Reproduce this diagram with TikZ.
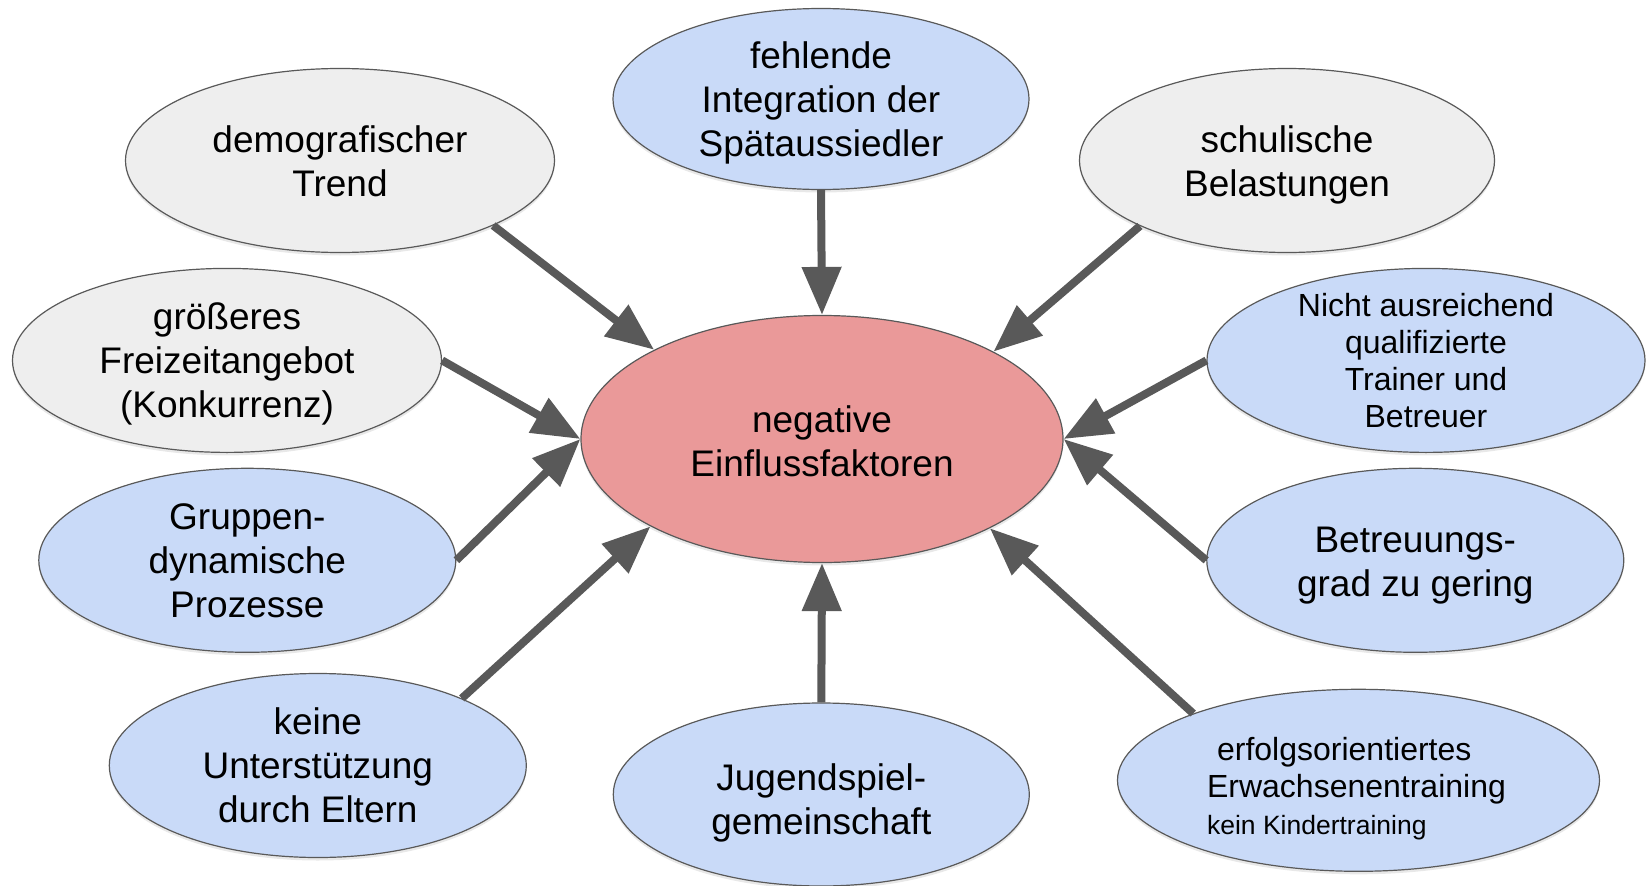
\documentclass[tikz,border=0pt]{standalone}
\usepackage{fontspec}
\setmainfont{Liberation Sans}
\usetikzlibrary{shapes.geometric,arrows.meta,shadows}
\definecolor{edgegray}{HTML}{595959}
\definecolor{greyfill}{HTML}{EEEEEE}
\definecolor{bluefill}{HTML}{C9DAF8}
\definecolor{redfill}{HTML}{EA9999}
\newcommand\bigf{\fontsize{37}{44}\selectfont}
\newcommand\smallf{\fontsize{32}{37}\selectfont}
\newcommand\tinyf{\fontsize{26.5}{35}\selectfont}
\tikzset{
  bub/.style={ellipse, draw=edgegray, line width=1.2pt, inner sep=0pt,
    drop shadow={shadow xshift=0pt, shadow yshift=-3pt, opacity=0.18}},
  sz/.style 2 args={minimum width=#1pt, minimum height=#2pt},
  grey/.style={bub, fill=greyfill},
  blue/.style={bub, fill=bluefill},
  lbl/.style 2 args={label={[align=center, font=\bigf, inner sep=0pt, yshift=#1pt]center:{#2}}},
  slbl/.style={label={[align=center, font=\smallf, inner sep=0pt]center:{#1}}},
  arr/.style={draw=edgegray, line width=8pt, -{Triangle[length=48pt,width=38pt]}, fill=edgegray}
}
\begin{document}
\begin{tikzpicture}[x=1pt,y=-1pt]
\useasboundingbox (0,0) rectangle (1650,886);
\node[bub, fill=redfill, sz={482}{247}, lbl={-2}{negative\\Einflussfaktoren}] (C) at (822,439) {};
\node[blue, sz={416}{181}, lbl={-4}{fehlende\\Integration der\\Spätaussiedler}] (fe) at (821,99) {};
\node[grey, sz={429}{184}, lbl={-1}{demografischer\\Trend}] (de) at (340,160.5) {};
\node[grey, sz={415}{184}, lbl={-4}{schulische\\Belastungen}] (sc) at (1287,160.5) {};
\node[grey, sz={429}{184}, lbl={-4}{größeres\\Freizeitangebot\\(Konkurrenz)}] (gr) at (227,360.4) {};
\node[blue, sz={438}{184}, slbl={Nicht ausreichend\\qualifizierte\\Trainer und\\Betreuer}] (ni) at (1426,360.4) {};
\node[blue, sz={417}{184}, lbl={0}{Gruppen-\\dynamische\\Prozesse}] (gp) at (247.3,560.3) {};
\node[blue, sz={417}{184}, lbl={-5}{Betreuungs-\\grad zu gering}] (be) at (1415.3,560.3) {};
\node[blue, sz={417}{184}, lbl={0}{keine\\Unterstützung\\durch Eltern}] (ke) at (317.8,765.5) {};
\node[blue, sz={416}{183}, lbl={-8}{Jugendspiel-\\gemeinschaft}] (ju) at (821.3,794.5) {};
\node[blue, sz={482}{182}, label={[align=left, font=\smallf, inner sep=0pt, yshift=-8pt, xshift=-2pt]center:{\hspace*{10pt}erfolgsorientiertes\\Erwachsenentraining\\{\tinyf kein Kindertraining}}}] (er) at (1358.5,780.3) {};
\draw[arr] (fe.south) -- (C.north);
\draw[arr] (de.-23.5) -- (C.152.7);
\draw[arr] (sc.204.1) -- (C.27.3);
\draw[arr] (gr.east) -- (C.west);
\draw[arr] (gp.east) -- (C.west);
\draw[arr] (ni.west) -- (C.east);
\draw[arr] (be.west) -- (C.east);
\draw[arr] (ke.25.2) -- (C.207.5);
\draw[arr] (ju.north) -- (C.south);
\draw[arr] (er.158.5) -- (C.332.5);
\end{tikzpicture}
\end{document}
